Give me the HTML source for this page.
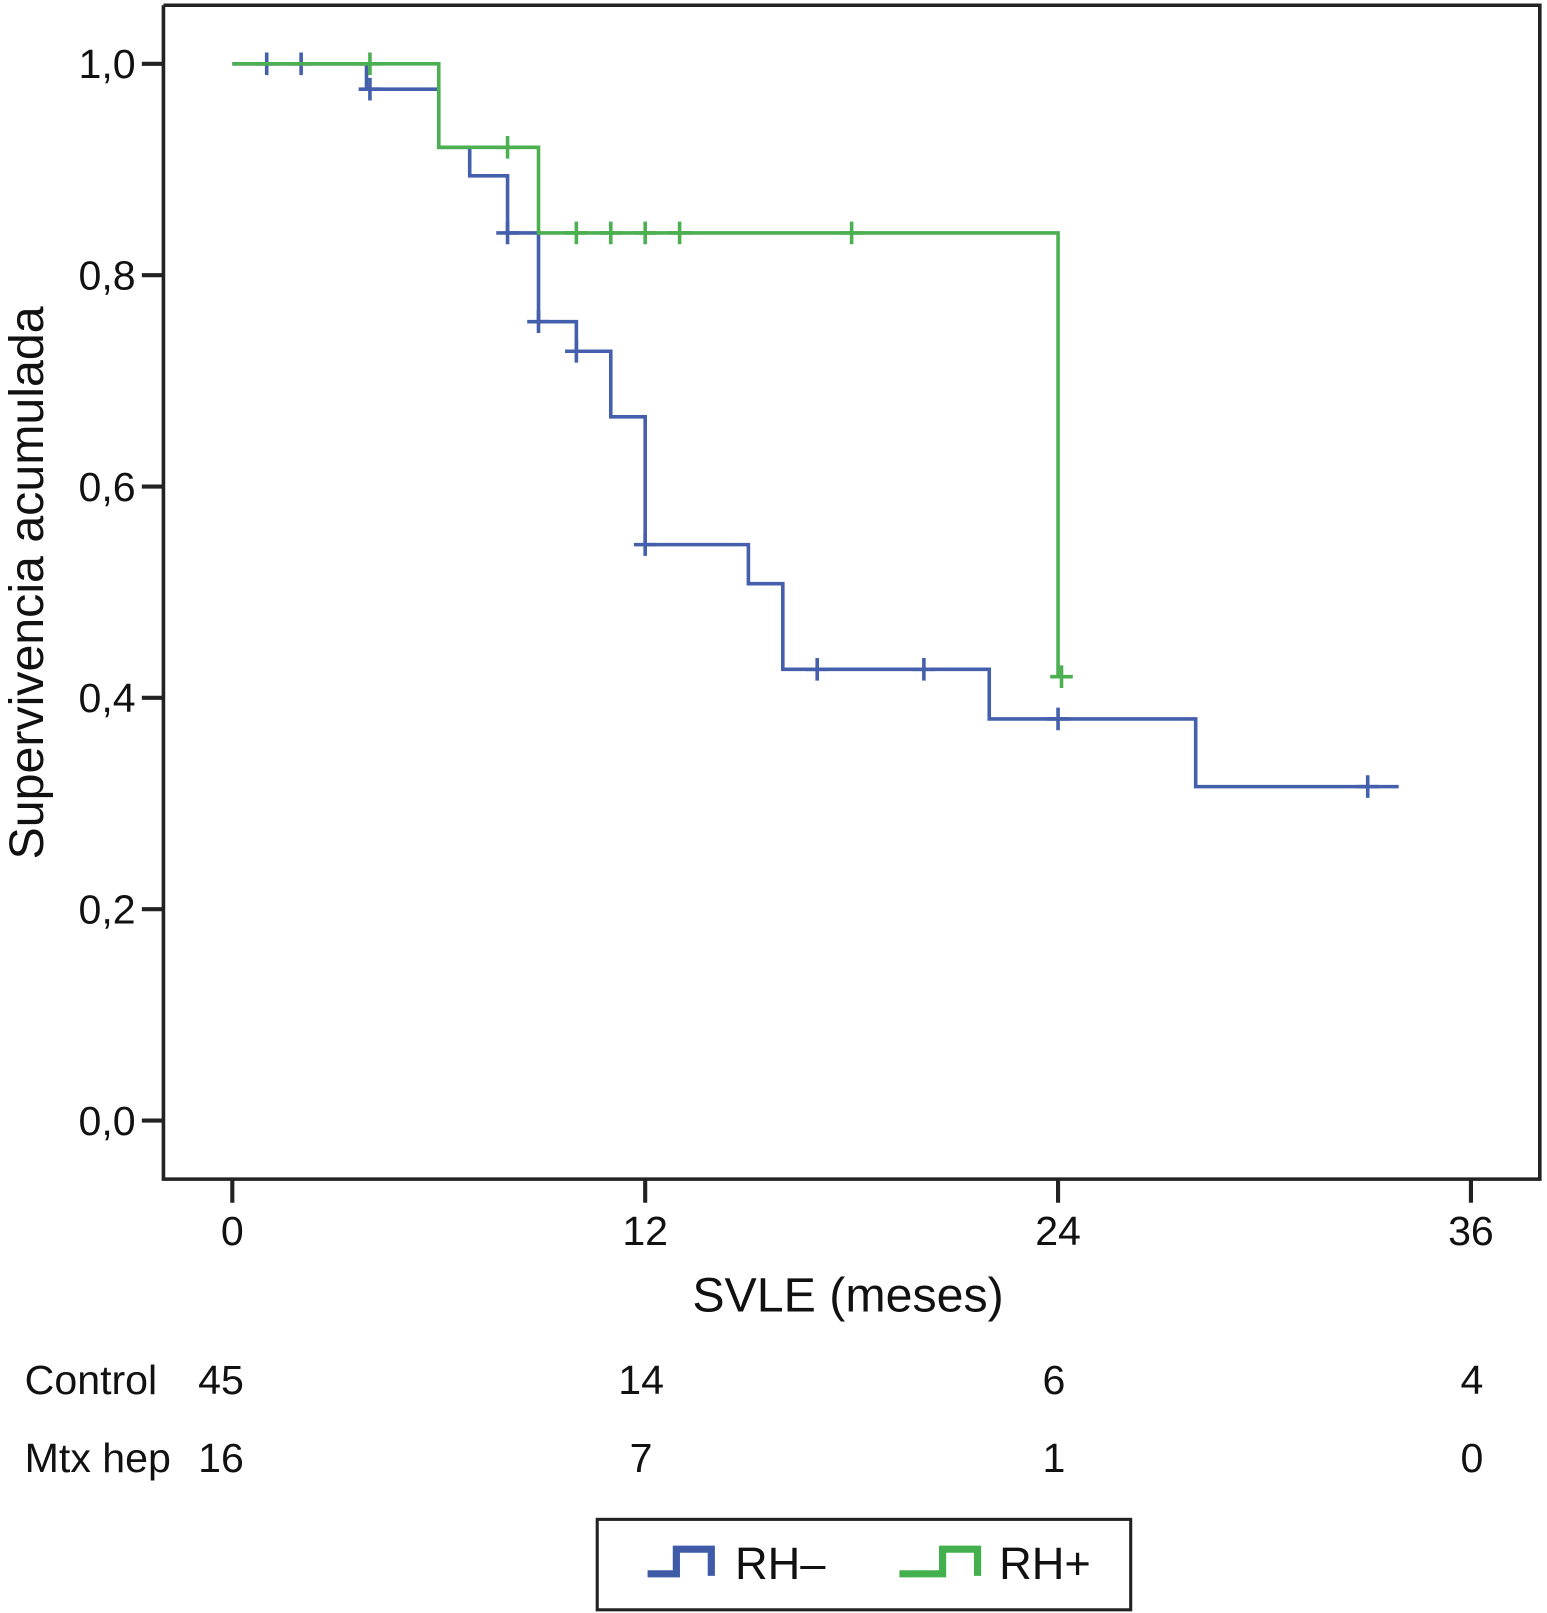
<!DOCTYPE html>
<html><head><meta charset="utf-8"><style>
html,body{margin:0;padding:0;background:#fff;}
svg{display:block;font-family:"Liberation Sans",Arial,sans-serif;}
</style></head><body>
<svg id="chart" width="1547" height="1613" viewBox="0 0 1505 1569" xmlns="http://www.w3.org/2000/svg">
<rect width="1505" height="1569" fill="#fff"/>
<g id="axes"></g>
<g id="series"></g>
<text transform="translate(42,567) rotate(-90)" text-anchor="middle" font-size="47" fill="#111">Supervivencia acumulada</text>
<text x="825" y="1276" text-anchor="middle" font-size="47" fill="#111">SVLE (meses)</text>
<g id="risk" font-size="40" fill="#111"></g>
<g>
<rect x="581" y="1478" width="519" height="88" fill="#fff" stroke="#222" stroke-width="3"/>
<g>
<path d="M630 1531 H658 V1507 H692 V1533" fill="none" stroke="#3f5ba8" stroke-width="7"/>
<text x="715" y="1536" font-size="44" fill="#111">RH–</text></g>
<g>
<path d="M875 1531 H917 V1507 H951 V1533" fill="none" stroke="#43b04e" stroke-width="7"/>
<text x="972" y="1536" font-size="44" fill="#111">RH+</text></g>
</g>
</svg>
<script>
const xTicks=[0,12,24,36];
const yTicks=[0,0.2,0.4,0.6,0.8,1.0];
const yTickLabels=["0,0","0,2","0,4","0,6","0,8","1,0"];
const blueTimes=[0,3.9,6.0,6.9,8.0,8.9,10.0,11.0,12.0,15.0,16.0,22.0,28.0,33.9];
const blueSurv=[1.0,0.976,0.921,0.894,0.84,0.756,0.728,0.666,0.545,0.508,0.427,0.38,0.316,0.316];
const blueCensT=[1.0,2.0,4.0,8.0,8.9,10.0,12.0,17.0,20.1,24.0,33.0];
const blueCensS=[1.0,1.0,0.976,0.84,0.756,0.728,0.545,0.427,0.427,0.38,0.316];
const greenTimes=[0,6.0,8.9,24.0,24.1];
const greenSurv=[1.0,0.921,0.84,0.42,0.42];
const greenCensT=[4.0,8.0,10.0,11.0,12.0,13.0,18.0,24.1];
const greenCensS=[1.0,0.921,0.84,0.84,0.84,0.84,0.84,0.42];
const riskRows=["Control","Mtx hep"];
const riskControl=[45,14,6,4];
const riskMtx=[16,7,1,0];

const NS="http://www.w3.org/2000/svg";
const X=t=>226+t*(1431-226)/36;
const Y=s=>1090-s*(1090-62);
function mk(tag,attrs,parent){const e=document.createElementNS(NS,tag);for(const k in attrs)e.setAttribute(k,attrs[k]);parent.appendChild(e);return e;}
const axes=document.getElementById('axes');
let f=mk('path',{d:"M159 5 V1147 H1498 V5 H159",fill:"none",stroke:"#222","stroke-width":3.5},axes);


yTicks.forEach((v,i)=>{
 let t=mk('line',{x1:138,x2:159,y1:Y(v),y2:Y(v),stroke:"#222","stroke-width":4},axes);
 
 
 let l=mk('text',{x:132,y:Y(v)+14,"text-anchor":"end","font-size":40,fill:"#111"},axes);
 l.textContent=yTickLabels[i];
 
 
});
xTicks.forEach(v=>{
 let t=mk('line',{x1:X(v),x2:X(v),y1:1147,y2:1170,stroke:"#222","stroke-width":4},axes);
 
 
 let l=mk('text',{x:X(v),y:1211,"text-anchor":"middle","font-size":40,fill:"#111"},axes);
 l.textContent=v;
 
 
});
const series=document.getElementById('series');
function drawKM(times,surv,ct,cs,color,name){
 let d="M"+X(times[0])+" "+Y(surv[0]);
 for(let i=1;i<times.length;i++){d+=" H"+X(times[i])+" V"+Y(surv[i]);}
 let p=mk('path',{d:d,fill:"none",stroke:color,"stroke-width":3.5},series);
 
 
 ct.forEach((t,i)=>{
  let c=mk('path',{d:`M${X(t)-11} ${Y(cs[i])} h22 M${X(t)} ${Y(cs[i])-11} v22`,stroke:color,"stroke-width":3.5},series);
  
  
 });
}
drawKM(blueTimes,blueSurv,blueCensT,blueCensS,"#4460ac","rh-neg");
drawKM(greenTimes,greenSurv,greenCensT,greenCensS,"#4caf50","rh-pos");
const risk=document.getElementById('risk');
[riskControl,riskMtx].forEach((row,r)=>{
 const y=1356+r*76;
 let lb=mk('text',{x:24,y:y},risk);
 lb.textContent=riskRows[r];
 
 
 row.forEach((v,i)=>{
  const xs=i===0?215:X(xTicks[i])-4+(i===3?5:0);
  let t=mk('text',{x:xs,y:y,"text-anchor":"middle"},risk);
  t.textContent=v;
  
  
 });
});
</script>
</body></html>
